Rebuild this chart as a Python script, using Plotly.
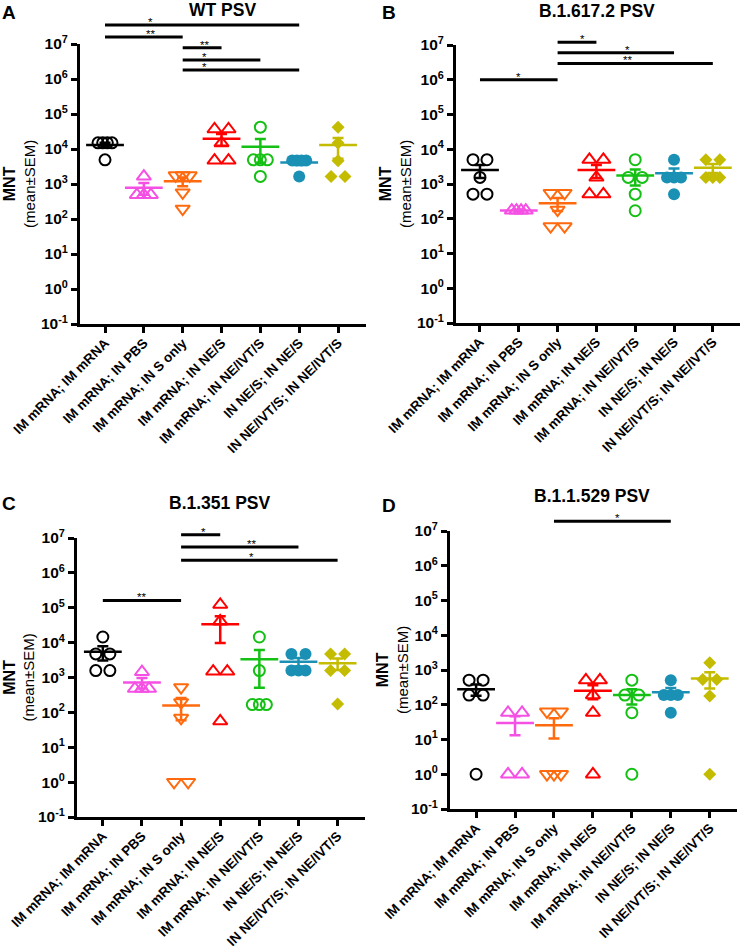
import numpy as np
import plotly.graph_objects as go

# ---------------- data ----------------
categories = ["IM mRNA; IM mRNA", "IM mRNA; IN PBS", "IM mRNA; IN S only",
              "IM mRNA; IN NE/S", "IM mRNA; IN NE/IVT/S", "IN NE/S; IN NE/S",
              "IN NE/IVT/S; IN NE/IVT/S"]

wt_psv = [
    [15000, 15000, 15000, 15000, 4900],
    [1650, 490, 490, 490],
    [1750, 1750, 1750, 570, 195],
    [37000, 37000, 14800, 4700, 4700],
    [42000, 4900, 4900, 4900, 1650],
    [4700, 4700, 4700, 4700, 1650],
    [42000, 14800, 4600, 1650, 1650],
]
delta_psv = [
    [5000, 5000, 1550, 510, 510],
    [173, 173, 173, 173],
    [550, 550, 180, 60, 60],
    [5000, 5000, 1550, 510, 510],
    [5000, 1550, 1550, 510, 170],
    [5000, 1550, 1550, 1550, 510],
    [5000, 5000, 1550, 1550, 1550],
]
beta_psv = [
    [14500, 4750, 4750, 1580, 1580],
    [1450, 480, 480, 480],
    [525, 195, 69, 1, 1],
    [123000, 41000, 1500, 1500, 56],
    [14500, 1580, 167, 167, 167],
    [4750, 4750, 1580, 1580, 1580],
    [4750, 4750, 1580, 1580, 175],
]
omicron_psv = [
    [510, 510, 190, 190, 1],
    [59, 59, 1, 1],
    [63, 63, 1, 1, 1],
    [510, 510, 190, 59, 1],
    [510, 190, 190, 59, 1],
    [510, 190, 190, 190, 59],
    [1620, 535, 535, 178, 1],
]

panel_titles = ["WT PSV", "B.1.617.2 PSV", "B.1.351 PSV", "B.1.1.529 PSV"]
panel_letters = ["A", "B", "C", "D"]

# significance comparisons (group a, group b, label)
sig_A = [(0, 5, "*"), (0, 2, "**"), (2, 3, "**"), (2, 4, "*"), (2, 5, "*")]
sig_B = [(2, 3, "*"), (2, 5, "*"), (2, 6, "**"), (0, 2, "*")]
sig_C = [(2, 3, "*"), (2, 5, "**"), (2, 6, "*"), (0, 2, "**")]
sig_D = [(2, 5, "*")]

ytick_exponents = list(range(-1, 8))

# ---------------- styles / layout ----------------
colors = ["#000000", "#F550E4", "#FF6A0E", "#FF0000", "#14C014", "#1A91B4", "#C4BC00"]
symbols = ["circle-open", "triangle-up-open", "triangle-down-open", "triangle-up-open",
           "circle-open", "circle", "diamond"]
msizes = [11, 12.5, 12.5, 12.5, 11, 12, 10]

W, H = 741, 950
FONT = "Liberation Sans, Arial, sans-serif"

# px geometry: x spine left/right, y top (10^7) / bottom (10^-1), x range;
# significance bar heights (log10 units) and star x positions (axis units)
panels = [
    dict(data=wt_psv, sig=sig_A, sig_lv=[7.54, 7.2, 6.89, 6.54, 6.26],
         star_x=[1.16, 1.16, 2.57, 2.57, 2.57],
         xpx=(80, 366), ypx=(44, 324), xr=(-0.644, 6.72),
         letter_xy=(9, 12), title_xy=(222, 10), ylab_x=19),
    dict(data=delta_psv, sig=sig_B, sig_lv=[7.08, 6.78, 6.47, 6.0],
         star_x=[2.63, 3.79, 3.79, 0.98],
         xpx=(456, 740), ypx=(45, 323), xr=(-0.618, 6.7),
         letter_xy=(389, 12), title_xy=(597, 11), ylab_x=395),
    dict(data=beta_psv, sig=sig_C, sig_lv=[7.09, 6.74, 6.36, 5.21],
         star_x=[2.58, 3.81, 3.81, 1.0],
         xpx=(77, 365), ypx=(538, 817), xr=(-0.66, 6.7),
         letter_xy=(9, 503), title_xy=(220, 503), ylab_x=19),
    dict(data=omicron_psv, sig=sig_D, sig_lv=[7.28],
         star_x=[3.62],
         xpx=(450, 737), ypx=(531, 809), xr=(-0.67, 6.7),
         letter_xy=(389, 505), title_xy=(592, 496), ylab_x=392),
]


def pxx(p):
    return p / W


def pxy(p):
    return 1 - p / H


fig = go.Figure()
shapes = []
annotations = []
SPREAD = 0.18

for pi, pan in enumerate(panels):
    sfx = "" if pi == 0 else str(pi + 1)
    xa, ya = "x" + sfx, "y" + sfx
    for gi, vals in enumerate(pan["data"]):
        vals = np.asarray(vals, dtype=float)
        # horizontal spread of identical values (scatter-dot style)
        xs = np.full(len(vals), float(gi))
        for v in np.unique(vals):
            idx = np.where(vals == v)[0]
            k = len(idx)
            if k > 1:
                xs[idx] = gi + np.linspace(-SPREAD, SPREAD, k)
        col = colors[gi]
        filled = not symbols[gi].endswith("open")
        fig.add_trace(go.Scatter(
            x=xs, y=vals, mode="markers", xaxis=xa, yaxis=ya, showlegend=False,
            cliponaxis=False, hoverinfo="skip",
            marker=dict(symbol=symbols[gi], size=msizes[gi], color=col,
                        line=dict(width=0 if filled else 2, color=col))))
        mean = vals.mean()
        sem = vals.std(ddof=1) / np.sqrt(len(vals))
        fig.add_trace(go.Scatter(
            x=[gi], y=[mean], mode="markers", xaxis=xa, yaxis=ya, showlegend=False,
            cliponaxis=False, hoverinfo="skip",
            marker=dict(symbol="line-ew", size=27, color=col,
                        line=dict(width=2.5, color=col)),
            error_y=dict(type="data", array=[sem], color=col, thickness=2.5, width=5.5)))

    y0p, y1p = pxy(pan["ypx"][1]), pxy(pan["ypx"][0])
    ax_common = dict(showline=True, linewidth=3, linecolor="black", ticks="outside",
                     ticklen=6, tickwidth=3, tickcolor="black", showgrid=False,
                     zeroline=False, automargin=False)
    fig.update_layout({
        "xaxis" + sfx: dict(domain=[pxx(pan["xpx"][0]), pxx(pan["xpx"][1])],
                            anchor=ya, range=list(pan["xr"]), tickmode="array",
                            tickvals=list(range(len(categories))), ticktext=categories,
                            tickangle=-45, ticklabelstandoff=-3,
                            tickfont=dict(family=FONT, size=13.5, color="black", weight="bold"),
                            **ax_common),
        "yaxis" + sfx: dict(domain=[y0p, y1p], anchor=xa, type="log", range=[-1, 7],
                            tickmode="array",
                            tickvals=[10.0 ** e for e in ytick_exponents],
                            ticktext=["10<sup>%d</sup>" % e for e in ytick_exponents],
                            tickfont=dict(family=FONT, size=15.5, color="black", weight="bold"),
                            **ax_common),
    })

    def lv2paper(lv):
        return y0p + (lv + 1) / 8 * (y1p - y0p)

    for (a, b, lab), lv, sx in zip(pan["sig"], pan["sig_lv"], pan["star_x"]):
        yp = lv2paper(lv)
        shapes.append(dict(type="line", xref=xa, yref="paper", x0=a, x1=b, y0=yp, y1=yp,
                           line=dict(color="black", width=3)))
        annotations.append(dict(xref=xa, yref="paper", x=sx, y=yp, text=lab,
                                showarrow=False, yanchor="bottom", yshift=-4, borderpad=0,
                                font=dict(family=FONT, size=11.5, color="black")))

    annotations.append(dict(xref="paper", yref="paper", x=pxx(pan["letter_xy"][0]),
                            y=pxy(pan["letter_xy"][1]), text="<b>%s</b>" % panel_letters[pi],
                            showarrow=False, xanchor="center", yanchor="middle",
                            font=dict(family=FONT, size=19, color="black")))
    annotations.append(dict(xref="paper", yref="paper", x=pxx(pan["title_xy"][0]),
                            y=pxy(pan["title_xy"][1]), text="<b>%s</b>" % panel_titles[pi],
                            showarrow=False, xanchor="center", yanchor="middle",
                            font=dict(family=FONT, size=17.5, color="black")))
    annotations.append(dict(xref="paper", yref="paper", x=pxx(pan["ylab_x"]),
                            y=(y0p + y1p) / 2, textangle=-90,
                            text="<b><span style='font-size:16px'>MNT</span></b><br>(mean±SEM)",
                            showarrow=False, xanchor="center", yanchor="middle",
                            font=dict(family=FONT, size=15, color="black")))

fig.update_layout(template="none", width=W, height=H, margin=dict(l=0, r=0, t=0, b=0, pad=0),
                  autosize=False, hovermode=False,
                  paper_bgcolor="white", plot_bgcolor="white",
                  shapes=shapes, annotations=annotations, showlegend=False,
                  font=dict(family=FONT, color="black"))

fig.write_html("out.html", config={"displayModeBar": False, "staticPlot": True},
               post_script="document.body.style.margin='0';document.body.style.padding='0';")
